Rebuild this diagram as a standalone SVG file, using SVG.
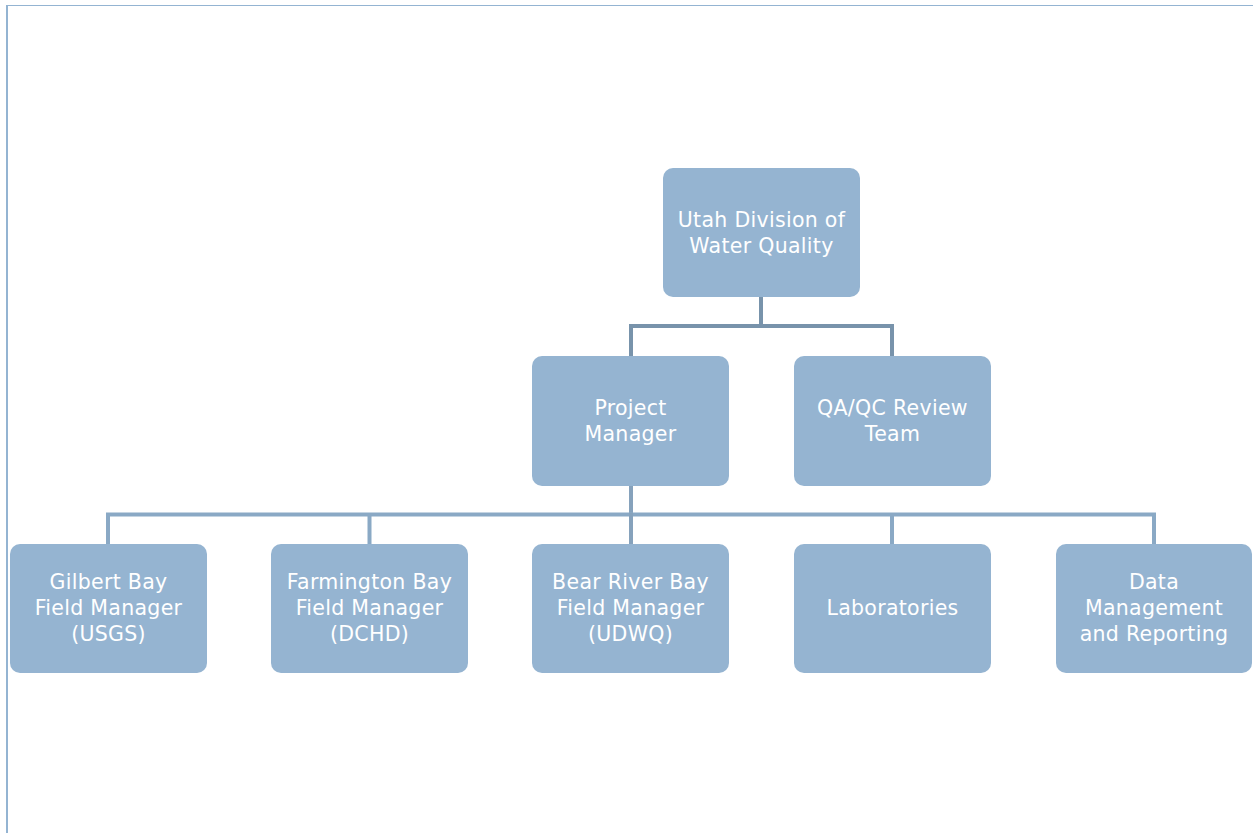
<svg xmlns="http://www.w3.org/2000/svg" width="1253" height="833" viewBox="0 0 1253 833">
<style>
.node rect{fill:#95b4d1;}
.node text{fill:#ffffff;font-family:"DejaVu Sans","Noto Sans",sans-serif;font-size:20.5px;letter-spacing:0.3px;text-anchor:middle;}
.up{stroke:#7893ab;stroke-width:4;fill:none;}
.low{stroke:#8aa9c5;stroke-width:4;fill:none;}
.lowv{stroke:#86a2bc;stroke-width:4;fill:none;}
</style>
<rect x="0" y="0" width="1253" height="833" fill="#ffffff"/>
<line x1="6" y1="5.5" x2="1253" y2="5.5" stroke="#94b4d2" stroke-width="1"/>
<line x1="7" y1="5" x2="7" y2="833" stroke="#94b4d2" stroke-width="2"/>
<g id="connectors">
<path class="up" d="M761 297 V326 M629 326 H894 M631 324 V356 M892 324 V356"/>
<path class="lowv" d="M631 486 V514"/>
<path class="low" d="M106 514.5 H1156 M108 512.5 V544 M369.5 512.5 V544 M892 512.5 V544 M1154 512.5 V544"/>
<path class="lowv" d="M631 513 V544"/>
</g>
<g id="udwq" class="node"><rect x="663" y="168" width="197" height="129" rx="10"/><text x="761.5" y="227">Utah Division of</text><text x="761.5" y="253">Water Quality</text></g>
<g id="pm" class="node"><rect x="532" y="356" width="197" height="130" rx="10"/><text x="630.5" y="415">Project</text><text x="630.5" y="441">Manager</text></g>
<g id="qaqc" class="node"><rect x="794" y="356" width="197" height="130" rx="10"/><text x="892.5" y="415">QA/QC Review</text><text x="892.5" y="441">Team</text></g>
<g id="gilbert" class="node"><rect x="10" y="544" width="197" height="129" rx="10"/><text x="108.5" y="589">Gilbert Bay</text><text x="108.5" y="615">Field Manager</text><text x="108.5" y="641">(USGS)</text></g>
<g id="farmington" class="node"><rect x="271" y="544" width="197" height="129" rx="10"/><text x="369.5" y="589">Farmington Bay</text><text x="369.5" y="615">Field Manager</text><text x="369.5" y="641">(DCHD)</text></g>
<g id="bearriver" class="node"><rect x="532" y="544" width="197" height="129" rx="10"/><text x="630.5" y="589">Bear River Bay</text><text x="630.5" y="615">Field Manager</text><text x="630.5" y="641">(UDWQ)</text></g>
<g id="labs" class="node"><rect x="794" y="544" width="197" height="129" rx="10"/><text x="892.5" y="615">Laboratories</text></g>
<g id="data" class="node"><rect x="1056" y="544" width="196" height="129" rx="10"/><text x="1154" y="589">Data</text><text x="1154" y="615">Management</text><text x="1154" y="641">and Reporting</text></g>
</svg>
